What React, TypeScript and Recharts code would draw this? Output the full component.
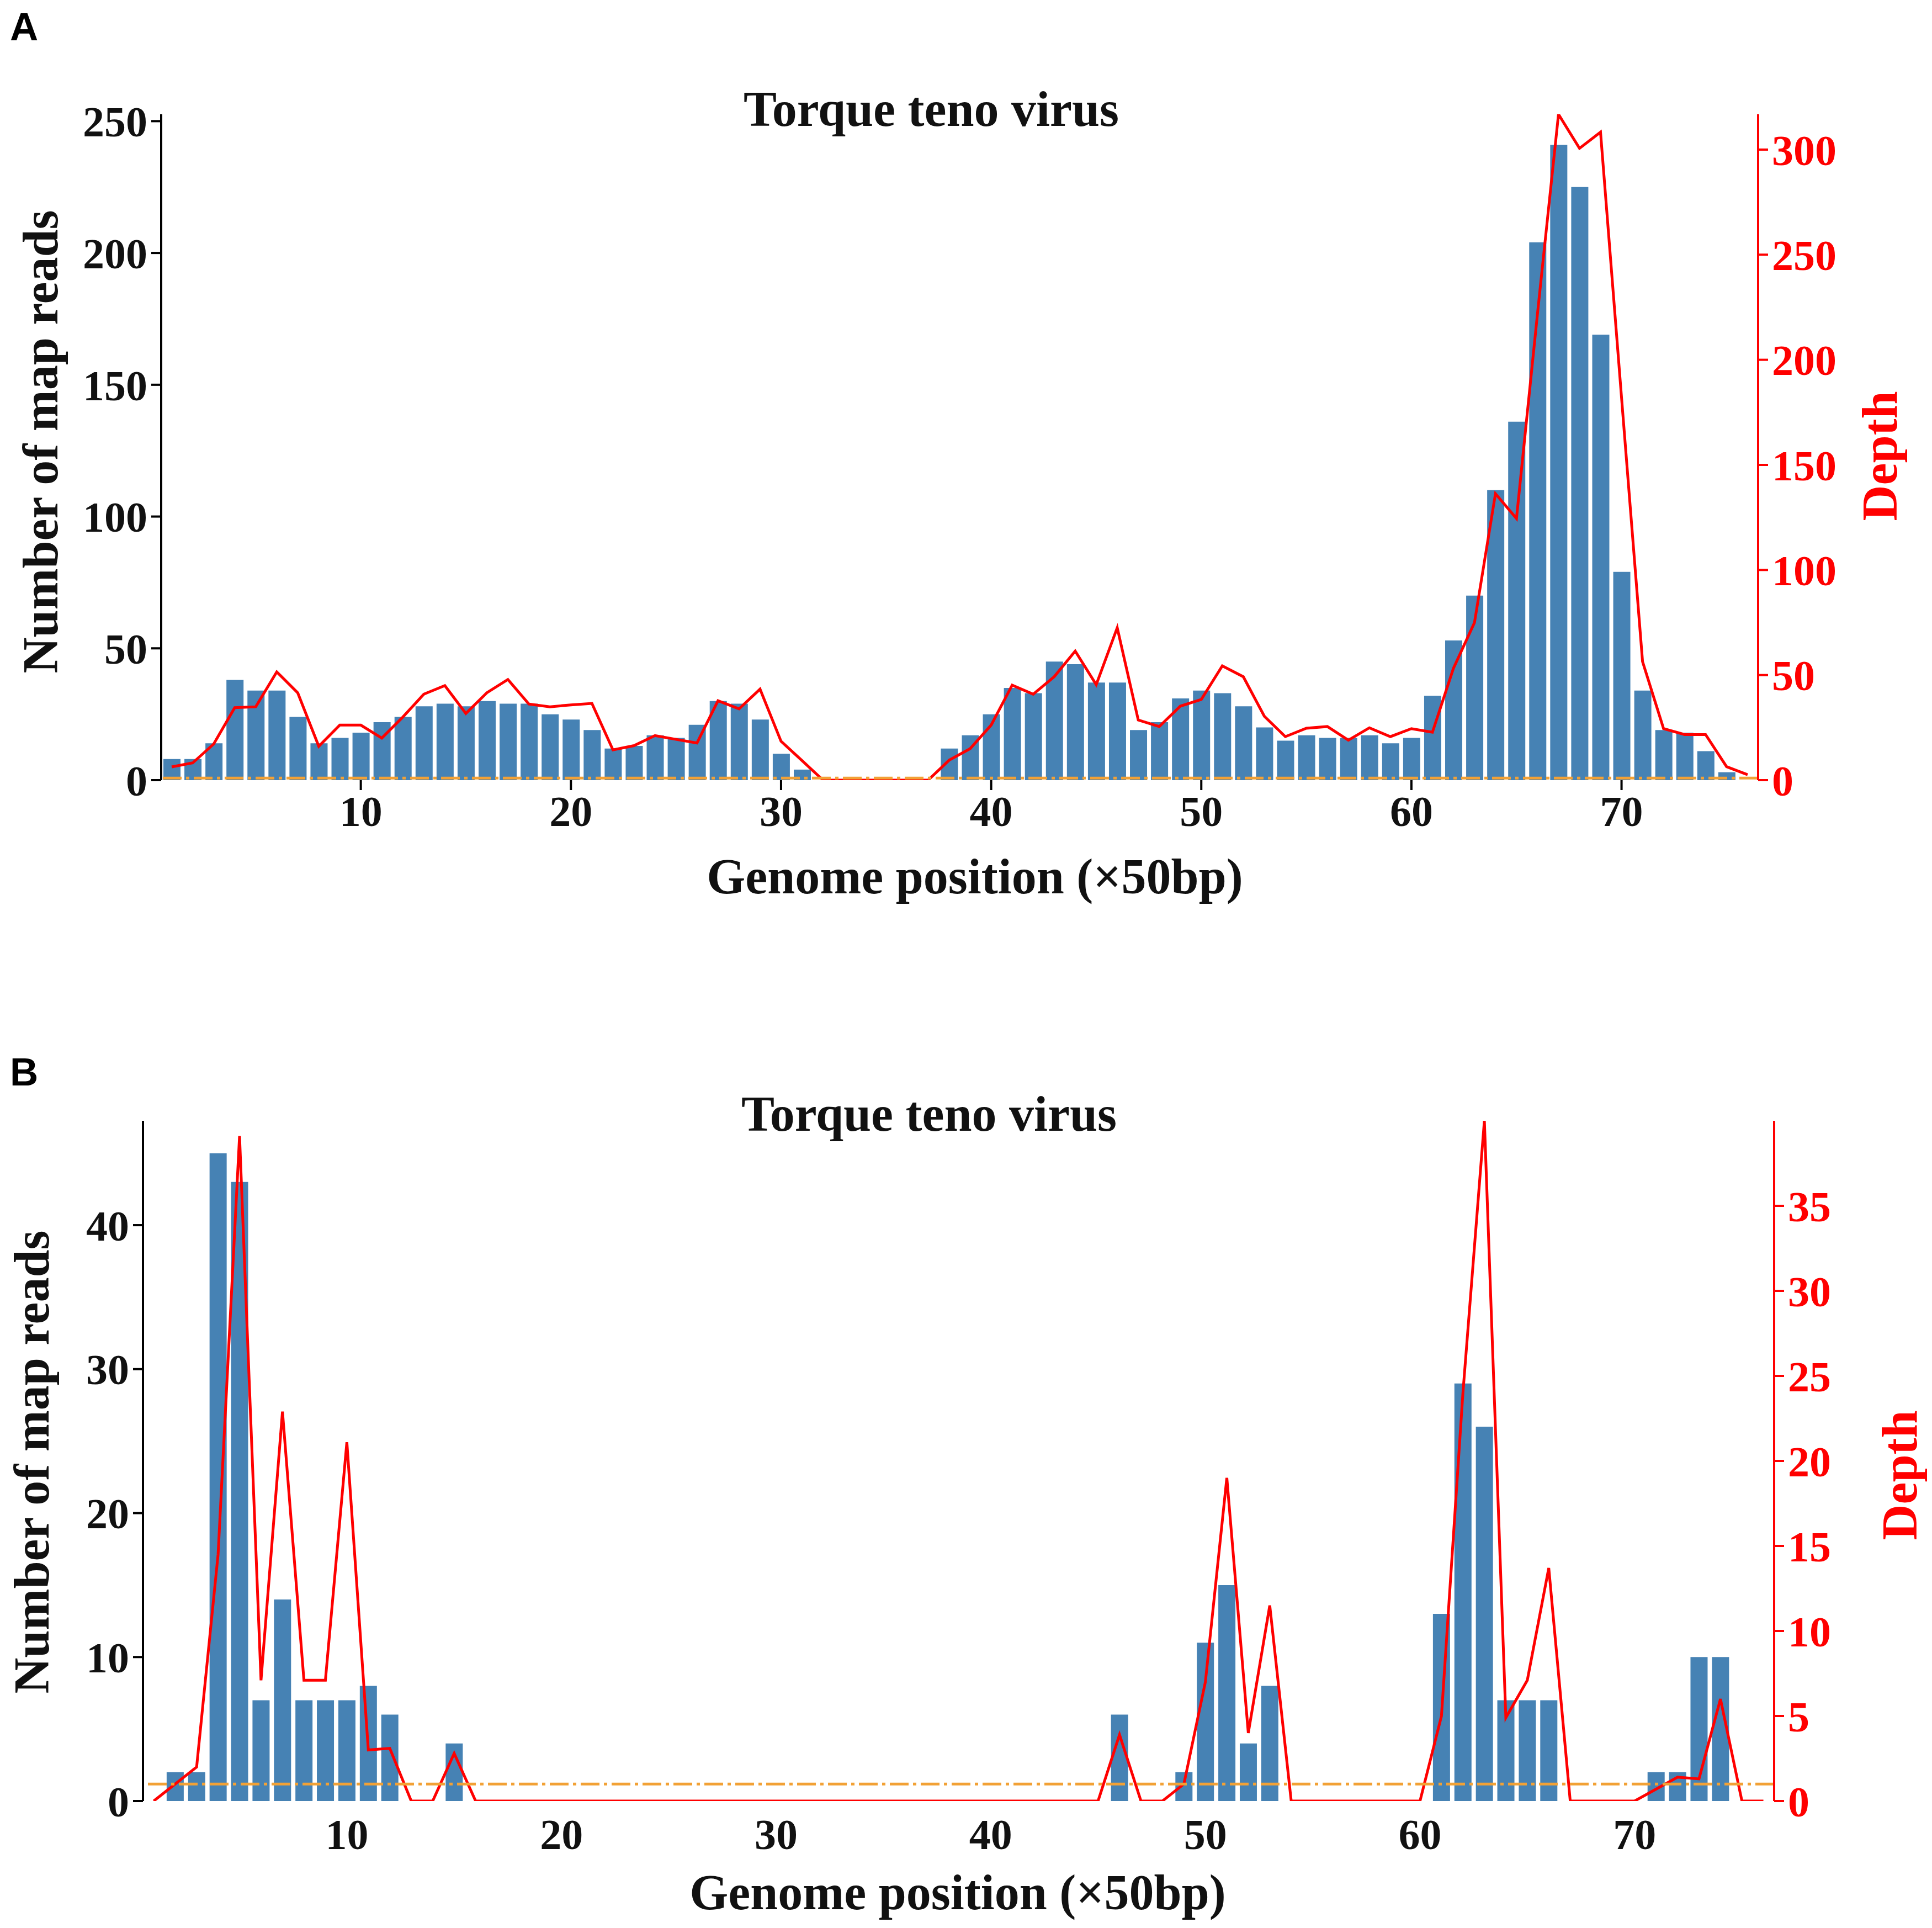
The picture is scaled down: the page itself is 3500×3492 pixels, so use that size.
import React from 'react';
import { ComposedChart, Bar, Line, XAxis, YAxis, ReferenceLine } from 'recharts';

const positions = [
  1, 2, 3, 4, 5, 6, 7, 8, 9, 10, 11, 12, 13, 14, 15, 16, 17, 18, 19, 20,
  21, 22, 23, 24, 25, 26, 27, 28, 29, 30, 31, 32, 33, 34, 35, 36, 37, 38, 39, 40,
  41, 42, 43, 44, 45, 46, 47, 48, 49, 50, 51, 52, 53, 54, 55, 56, 57, 58, 59, 60,
  61, 62, 63, 64, 65, 66, 67, 68, 69, 70, 71, 72, 73, 74, 75, 76,
];

// Panel A: number of mapped reads per 50bp window (bars) and depth (line)
const readsA = [
  8, 8, 14, 38, 34, 34, 24, 14, 16, 18, 22, 24, 28, 29, 28, 30, 29, 29, 25, 23,
  19, 12, 13, 17, 16, 21, 30, 29, 23, 10, 4, 0, 0, 0, 0, 0, 0, 12, 17, 25,
  35, 33, 45, 44, 37, 37, 19, 22, 31, 34, 33, 28, 20, 15, 17, 16, 16, 17, 14, 16,
  32, 53, 70, 110, 136, 204, 241, 225, 169, 79, 34, 19, 18, 11, 3, null,
];
const depthA = [
  6.3, 8.2, 17.2, 34.5, 34.9, 51.5, 41.5, 16.1, 26.2, 26.2, 20, 30, 40.9, 45, 31.7, 41.6, 47.9, 36.2, 34.9, 35.8,
  36.5, 14.4, 16.4, 21.2, 19.4, 17.7, 37.8, 33.9, 43.3, 18.5, 9.3, 0, 0, 0, 0, 0, 0, 9.5, 15, 26.2,
  45.2, 40.9, 49.2, 61.4, 45.4, 72.5, 28.6, 25.5, 35.2, 38.4, 54.4, 49.2, 30.4, 20.7, 24.7, 25.5, 19, 24.9, 20.7, 24.5,
  22.8, 53.2, 74.9, 136.3, 124.5, 222, 316.8, 300.6, 308.3, 182, 56.4, 24.5, 21.7, 21.7, 6.4, 2.6,
];

// Panel B
const readsB = [
  0, 2, 2, 45, 43, 7, 14, 7, 7, 7, 8, 6, 0, 0, 4, 0, 0, 0, 0, 0,
  0, 0, 0, 0, 0, 0, 0, 0, 0, 0, 0, 0, 0, 0, 0, 0, 0, 0, 0, 0,
  0, 0, 0, 0, 0, 6, 0, 0, 2, 11, 15, 4, 8, 0, 0, 0, 0, 0, 0, 0,
  13, 29, 26, 7, 7, 7, 0, 0, 0, 0, 2, 2, 10, 10, 0, 0,
];
const depthB = [
  0, 1, 2, 14.5, 39.1, 7.1, 22.9, 7.1, 7.1, 21.1, 3, 3.1, 0, 0, 2.8, 0, 0, 0, 0, 0,
  0, 0, 0, 0, 0, 0, 0, 0, 0, 0, 0, 0, 0, 0, 0, 0, 0, 0, 0, 0,
  0, 0, 0, 0, 0, 3.9, 0, 0, 1, 7, 19, 4, 11.5, 0, 0, 0, 0, 0, 0, 0,
  5, 24, 40, 4.9, 7.1, 13.7, 0, 0, 0, 0, 0.7, 1.4, 1.3, 6, 0, 0,
];

const xTicks = [10, 20, 30, 40, 50, 60, 70];
const leftTicksA = [0, 50, 100, 150, 200, 250];
const rightTicksA = [0, 50, 100, 150, 200, 250, 300];
const leftTicksB = [0, 10, 20, 30, 40];
const rightTicksB = [0, 5, 10, 15, 20, 25, 30, 35];

const title = 'Torque teno virus';
const xLabel = 'Genome position (×50bp)';
const yLabel = 'Number of map reads';
const y2Label = 'Depth';

const dataA = positions.map((p, i) => ({ pos: p, reads: readsA[i], depth: depthA[i] }));
const dataB = positions.map((p, i) => ({ pos: p, reads: readsB[i], depth: depthB[i] }));

const SERIF = '"Liberation Serif", "Times New Roman", serif';
const SANS = '"Liberation Sans", Arial, sans-serif';
const BAR = '#4682b4';
const RED = '#ff0000';
const ORANGE = '#f2a135';
const TICK_FS = 78;
const LABEL_FS = 90;

const blackTick = { fontSize: TICK_FS, fontFamily: SERIF, fontWeight: 'bold', fill: '#111' };
const redTick = { fontSize: TICK_FS, fontFamily: SERIF, fontWeight: 'bold', fill: RED };

type PanelProps = {
  data: any[];
  top: number;
  height: number;
  margin: { top: number; right: number; bottom: number; left: number };
  leftMax: number;
  rightMax: number;
  leftTicks: number[];
  rightTicks: number[];
  showXTickLines: boolean;
  xTickMargin: number;
};

function Panel(props: PanelProps) {
  const { data, top, height, margin, leftMax, rightMax, leftTicks, rightTicks, showXTickLines, xTickMargin } = props;
  return (
    <div style={{ position: 'absolute', left: 0, top, width: 3500, height }}>
      <ComposedChart width={3500} height={height} data={data} margin={margin}>
        <XAxis
          dataKey="pos"
          type="number"
          domain={[0.5, 76.5]}
          allowDataOverflow
          ticks={xTicks}
          axisLine={false}
          tickLine={showXTickLines ? { stroke: '#000', strokeWidth: 4 } : false}
          tickSize={18}
          tickMargin={xTickMargin}
          height={100}
          tick={blackTick}
        />
        <YAxis
          yAxisId="left"
          orientation="left"
          domain={[0, leftMax]}
          ticks={leftTicks}
          allowDataOverflow
          width={200}
          axisLine={{ stroke: '#000', strokeWidth: 4 }}
          tickLine={{ stroke: '#000', strokeWidth: 4 }}
          tickSize={18}
          tickMargin={7}
          tick={blackTick}
        />
        <YAxis
          yAxisId="right"
          orientation="right"
          domain={[0, rightMax]}
          ticks={rightTicks}
          allowDataOverflow
          width={200}
          axisLine={{ stroke: RED, strokeWidth: 4 }}
          tickLine={{ stroke: RED, strokeWidth: 4 }}
          tickSize={18}
          tickMargin={7}
          tick={redTick}
        />
        <Bar yAxisId="left" dataKey="reads" fill={BAR} barSize={31} isAnimationActive={false} />
        <Line
          yAxisId="right"
          dataKey="depth"
          type="linear"
          stroke={RED}
          strokeWidth={5}
          dot={false}
          activeDot={false}
          isAnimationActive={false}
        />
        <ReferenceLine
          yAxisId="right"
          y={1}
          stroke={ORANGE}
          strokeWidth={5}
          strokeDasharray="34 8 6 8"
        />
      </ComposedChart>
    </div>
  );
}

export default function App() {
  const titleStyle = { fontFamily: SERIF, fontWeight: 'bold' as const, fontSize: LABEL_FS, fill: '#111' };
  return (
    <div style={{ position: 'absolute', left: 0, top: 0, width: 3500, height: 3492, background: '#fff' }}>
      <Panel
        data={dataA}
        top={0}
        height={1700}
        margin={{ top: 207, right: 115, bottom: 187, left: 92 }}
        leftMax={252.6}
        rightMax={316.8}
        leftTicks={leftTicksA}
        rightTicks={rightTicksA}
        showXTickLines={true}
        xTickMargin={10}
      />
      <Panel
        data={dataB}
        top={1800}
        height={1700}
        margin={{ top: 230, right: 86, bottom: 138, left: 59 }}
        leftMax={47.25}
        rightMax={40}
        leftTicks={leftTicksB}
        rightTicks={rightTicksB}
        showXTickLines={false}
        xTickMargin={14}
      />
      <svg
        width={3500}
        height={3492}
        style={{ position: 'absolute', left: 0, top: 0, pointerEvents: 'none' }}
      >
        <text x={18} y={73} fontFamily={SANS} fontWeight="bold" fontSize={71} fill="#000">A</text>
        <text x={18} y={1966} fontFamily={SANS} fontWeight="bold" fontSize={71} fill="#000">B</text>

        <text x={1687} y={228} textAnchor="middle" {...titleStyle}>{title}</text>
        <text x={1683} y={2048} textAnchor="middle" {...titleStyle}>{title}</text>

        <text x={1766} y={1618} textAnchor="middle" {...titleStyle}>{xLabel}</text>
        <text x={1735} y={3458} textAnchor="middle" {...titleStyle}>{xLabel}</text>

        <text transform="translate(104,800) rotate(-90)" textAnchor="middle" {...titleStyle}>{yLabel}</text>
        <text transform="translate(88,2648) rotate(-90)" textAnchor="middle" {...titleStyle}>{yLabel}</text>

        <text transform="translate(3436,826) rotate(-90)" textAnchor="middle" {...titleStyle} fill={RED}>{y2Label}</text>
        <text transform="translate(3472,2672) rotate(-90)" textAnchor="middle" {...titleStyle} fill={RED}>{y2Label}</text>
      </svg>
    </div>
  );
}
